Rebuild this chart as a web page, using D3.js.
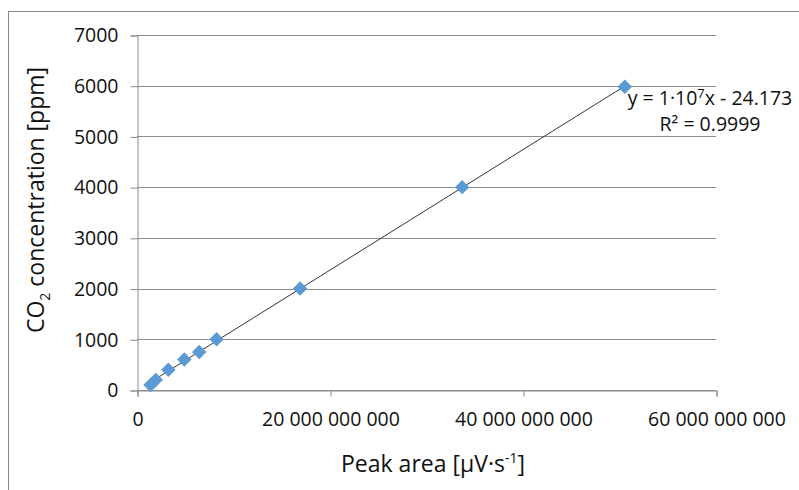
<!DOCTYPE html>
<html lang="en">
  <head>
    <meta charset="UTF-8" />
    <title>CO2 calibration</title>
  </head>
  <style>
    * {
      margin: 0;
      padding: 0;
    }
    body {
      background: #fff;
    }
    text {
      font-family: "Open Sans", sans-serif;
      fill: #111;
    }
  </style>
  <body>
    <svg id="chart"></svg>
  </body>
  <script src="https://d3js.org/d3.v7.min.js"></script>
  <script>
    // peak area [µV·s-1] and CO2 concentration [ppm]
    const peakArea = [1.4e9, 1.95e9, 3.25e9, 4.9e9, 6.45e9, 8.25e9, 16.9e9, 33.7e9, 50.55e9];
    const concentration = [100, 200, 400, 600, 750, 1000, 2000, 4000, 5980];
    const xTicks = [0, 20e9, 40e9, 60e9];
    const yTicks = [0, 1000, 2000, 3000, 4000, 5000, 6000, 7000];
    const equation = ["y = 1·10", "7", "x - 24.173"];
    const rSquared = "R² = 0.9999";

    const width = 799;
    const height = 490;
    const margin = { top: 35, right: 83, bottom: 100, left: 137 };

    const svg = d3.select("#chart").attr("width", width).attr("height", height);

    // chart frame (right and bottom edges fall outside the picture)
    svg
      .append("rect")
      .attr("x", 8.5)
      .attr("y", 11.5)
      .attr("width", 820)
      .attr("height", 520)
      .attr("fill", "none")
      .attr("stroke", "#8a8a8a")
      .attr("stroke-width", 1);

    const x = d3.scaleLinear().domain([0, 60e9]).range([margin.left, width - margin.right]);
    const y = d3.scaleLinear().domain([0, 7000]).range([height - margin.bottom, margin.top]);

    // horizontal gridlines
    svg
      .append("g")
      .selectAll("line")
      .data(yTicks)
      .join("line")
      .attr("x1", x(0))
      .attr("x2", x(60e9))
      .attr("y1", (d) => Math.round(y(d)) + 0.5)
      .attr("y2", (d) => Math.round(y(d)) + 0.5)
      .attr("stroke", "#8c8c8c")
      .attr("stroke-width", 1);

    // y axis
    const yAxis = svg
      .append("g")
      .attr("transform", `translate(${x(0) + 0.5},0.5)`)
      .call(d3.axisLeft(y).tickValues(yTicks).tickSize(7).tickPadding(12).tickFormat(d3.format("d")));
    yAxis.select(".domain").attr("stroke", "#8c8c8c");
    yAxis.selectAll(".tick line").attr("stroke", "#8c8c8c");
    yAxis.selectAll("text").attr("font-size", "19.5px").attr("fill", "#111").attr("font-family", "Open Sans");

    // x axis
    const xAxis = svg
      .append("g")
      .attr("transform", `translate(0.5,${Math.round(y(0)) + 0.5})`)
      .call(
        d3
          .axisBottom(x)
          .tickValues(xTicks)
          .tickSize(6)
          .tickPadding(16)
          .tickFormat((d) => d3.format(",")(d).replace(/,/g, " "))
      );
    xAxis.select(".domain").attr("stroke", "#8c8c8c");
    xAxis.selectAll(".tick line").attr("stroke", "#8c8c8c");
    xAxis.selectAll("text").attr("font-size", "19.5px").attr("fill", "#111").attr("font-family", "Open Sans");

    // least squares trendline through the points
    const n = peakArea.length;
    const mx = d3.mean(peakArea);
    const my = d3.mean(concentration);
    let sxy = 0,
      sxx = 0;
    for (let i = 0; i < n; i++) {
      sxy += (peakArea[i] - mx) * (concentration[i] - my);
      sxx += (peakArea[i] - mx) * (peakArea[i] - mx);
    }
    const slope = sxy / sxx;
    const intercept = my - slope * mx;
    const xExt = d3.extent(peakArea);

    svg
      .append("line")
      .attr("x1", x(xExt[0]))
      .attr("y1", y(slope * xExt[0] + intercept))
      .attr("x2", x(xExt[1]))
      .attr("y2", y(slope * xExt[1] + intercept))
      .attr("stroke", "#333")
      .attr("stroke-width", 1);

    // markers
    const pts = peakArea.map((d, i) => ({ x: d, y: concentration[i] }));
    svg
      .append("g")
      .selectAll("path")
      .data(pts)
      .join("path")
      .attr("d", d3.symbol().type(d3.symbolSquare).size(104))
      .attr("transform", (d) => `translate(${x(d.x)},${y(d.y)}) rotate(45)`)
      .attr("fill", "#5b9bd5");

    // trendline label
    const eq = svg
      .append("text")
      .attr("x", 710)
      .attr("y", 105)
      .attr("text-anchor", "middle")
      .attr("font-size", "19.5px");
    eq.append("tspan").text(equation[0]);
    eq.append("tspan").attr("dy", -7).attr("font-size", "13px").text(equation[1]);
    eq.append("tspan").attr("dy", 7).text(equation[2]);

    svg
      .append("text")
      .attr("x", 710)
      .attr("y", 131)
      .attr("text-anchor", "middle")
      .attr("font-size", "19.5px")
      .text(rSquared);

    // axis titles
    const xt = svg
      .append("text")
      .attr("x", 433)
      .attr("y", 472)
      .attr("text-anchor", "middle")
      .attr("font-size", "23px");
    xt.append("tspan").text("Peak area [µV·s");
    xt.append("tspan").attr("dy", -9).attr("font-size", "14px").text("-1");
    xt.append("tspan").attr("dy", 9).text("]");

    const yt = svg
      .append("text")
      .attr("transform", "translate(44,200) rotate(-90)")
      .attr("text-anchor", "middle")
      .attr("font-size", "23px");
    yt.append("tspan").text("CO");
    yt.append("tspan").attr("dy", 6).attr("font-size", "14px").text("2");
    yt.append("tspan").attr("dy", -6).text(" concentration [ppm]");
  </script>
</html>
